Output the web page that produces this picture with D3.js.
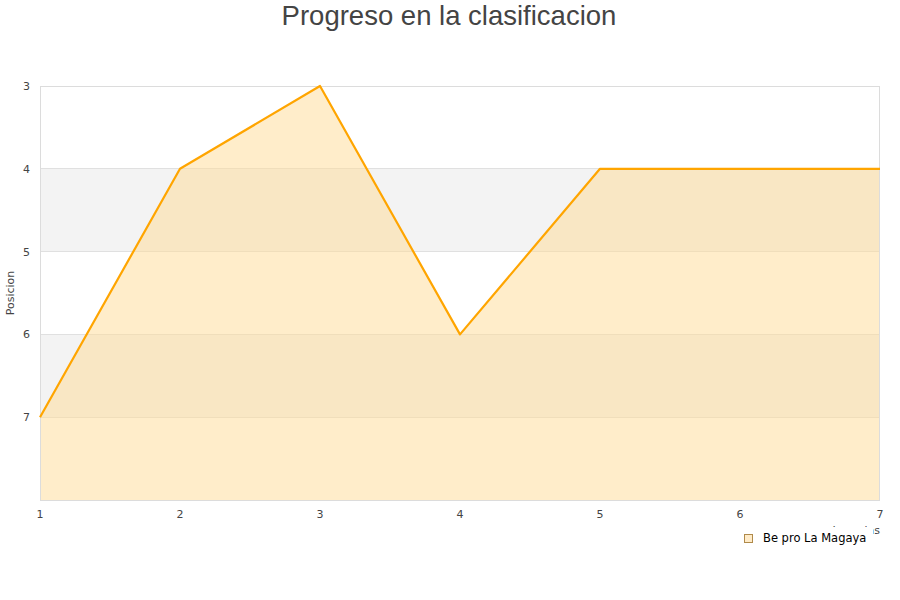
<!DOCTYPE html>
<html><head><meta charset="utf-8">
<script src="https://cdn.jsdelivr.net/npm/d3@7"></script>
<style>body{margin:0;background:#fff}svg{display:block}</style>
</head><body>
<svg id="c" width="900" height="600"></svg>
<script>
const jornadas = [1, 2, 3, 4, 5, 6, 7];
const posiciones = [7, 4, 3, 6, 4, 4, 4];
const yTicks = [3, 4, 5, 6, 7];
const seriesName = "Be pro La Magaya";
const title = "Progreso en la clasificacion";
const yTitle = "Posicion";
const xTitle = "Jornadas";

const svg = d3.select("#c");
const L = 40, R = 880, T = 86, B = 500;
const x = d3.scaleLinear().domain([1, 7]).range([L, R]);
const y = d3.scaleLinear().domain([3, 8]).range([T, B]);

const bands = [[4,5],[6,7]];
svg.selectAll("rect.band").data(bands).enter().append("rect")
  .attr("x", L).attr("width", R - L)
  .attr("y", d => y(d[0])).attr("height", d => y(d[1]) - y(d[0]))
  .attr("fill", "#f3f3f3");
svg.selectAll("line.grid").data([4,5,6,7]).enter().append("line")
  .attr("x1", L).attr("x2", R).attr("y1", d => y(d)).attr("y2", d => y(d))
  .attr("stroke", "#e0e0e0").attr("stroke-width", 1).attr("shape-rendering","crispEdges");

const pts = jornadas.map((j, i) => [j, posiciones[i]]);
svg.append("path").datum(pts)
  .attr("d", d3.area().x(d => x(d[0])).y0(B).y1(d => y(d[1])))
  .attr("fill", "rgba(255,220,150,0.5)");
svg.append("rect").attr("x", L + 0.5).attr("y", T + 0.5).attr("width", R - L - 1).attr("height", B - T)
  .attr("fill", "none").attr("stroke", "#dcdcdc");
svg.append("path").datum(pts)
  .attr("d", d3.line().x(d => x(d[0])).y(d => y(d[1])))
  .attr("fill", "none").attr("stroke", "#ffa500").attr("stroke-width", 2.2).attr("stroke-linejoin","round");

const tf = "DejaVu Sans, sans-serif";
svg.selectAll("text.yt").data(yTicks).enter().append("text")
  .attr("x", 30).attr("y", d => y(d) + 4).attr("text-anchor", "end")
  .attr("font-family", tf).attr("font-size", 11).attr("fill", "#444").text(d => d);
svg.selectAll("text.xt").data(jornadas).enter().append("text")
  .attr("x", d => x(d)).attr("y", 518).attr("text-anchor", "middle")
  .attr("font-family", tf).attr("font-size", 11).attr("fill", "#444").text(d => d);

svg.append("text").attr("transform", "translate(14,293) rotate(-90)").attr("text-anchor", "middle")
  .attr("font-family", tf).attr("font-size", 11).attr("fill", "#444").text(yTitle);
svg.append("text").attr("x", 880).attr("y", 534).attr("text-anchor", "end")
  .attr("font-family", tf).attr("font-size", 11).attr("fill", "#444").text(xTitle);

// legend
svg.append("rect").attr("x", 738).attr("y", 527).attr("width", 135).attr("height", 24).attr("fill", "#fff");
svg.append("rect").attr("x", 744.5).attr("y", 534.5).attr("width", 8).attr("height", 8)
  .attr("fill", "#ffebc8").attr("stroke", "#b08a4a").attr("stroke-width", 1);
svg.append("text").attr("x", 763).attr("y", 542).attr("font-family", tf).attr("font-size", 11.5)
  .attr("fill", "#000").text(seriesName);

svg.append("text").attr("x", 449).attr("y", 25).attr("text-anchor", "middle")
  .attr("font-family", "Liberation Sans, Arial, sans-serif").attr("font-size", 27.5).attr("fill", "#444").text(title);
</script>
</body></html>
